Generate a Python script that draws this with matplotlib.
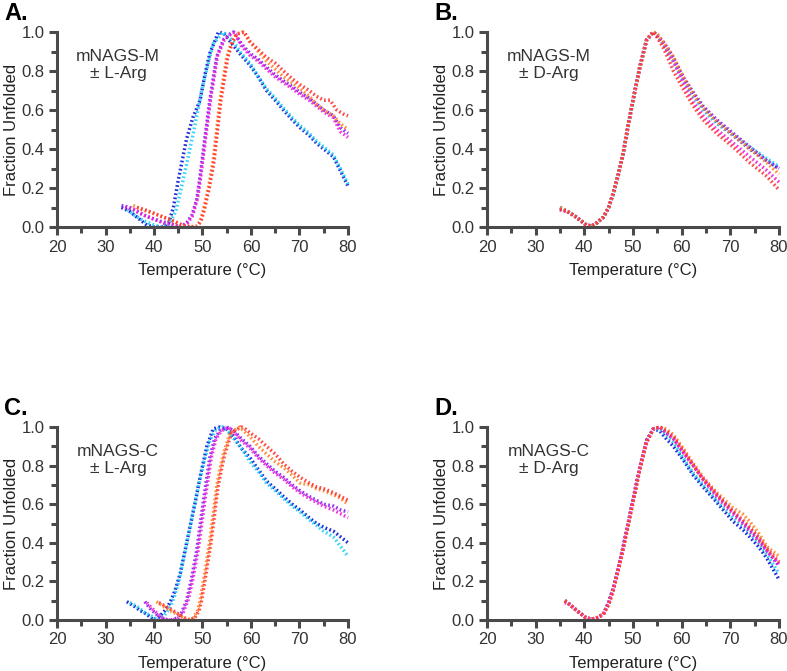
import matplotlib
matplotlib.use('Agg')
import matplotlib.pyplot as plt
from matplotlib.ticker import MultipleLocator

plt.rcParams['font.family'] = ['Liberation Sans', 'DejaVu Sans']

# colours for the six traces in each panel
colors = {'blue': '#0a16d8', 'cyan': '#22d2f5', 'purple': '#8a1cf0',
          'magenta': '#f020d8', 'orange': '#ff8424', 'red': '#ff3434'}

# ---- panel A : mNAGS-M +/- L-Arg ----
a_blue_t = [33.3, 35, 37, 38.5, 40, 42, 43, 44, 45, 46.7, 48, 49.5, 50.5, 51.5, 53.3, 54.5, 56.4, 58, 59.8, 61.5, 63.2, 65, 66.7, 68.5, 70.1, 72, 73.5, 75, 77, 78.4, 80]
a_blue_y = [0.10, 0.08, 0.04, 0.01, 0.0, 0.0, 0.02, 0.10, 0.24, 0.45, 0.56, 0.65, 0.78, 0.89, 1.0, 0.99, 0.93, 0.88, 0.83, 0.77, 0.70, 0.65, 0.60, 0.55, 0.51, 0.47, 0.43, 0.40, 0.36, 0.29, 0.21]
a_cyan_t = [34.5, 36, 38, 40, 41.5, 43, 44.5, 46, 48.1, 50, 52.2, 54.3, 56.4, 58, 59.8, 61.5, 63.2, 65, 66.7, 68.5, 70.1, 72, 73.5, 75, 77, 78.4, 80]
a_cyan_y = [0.09, 0.06, 0.03, 0.01, 0.0, 0.01, 0.08, 0.24, 0.48, 0.72, 0.94, 1.0, 0.95, 0.89, 0.84, 0.77, 0.71, 0.66, 0.61, 0.56, 0.52, 0.48, 0.44, 0.41, 0.37, 0.30, 0.22]
a_purple_t = [33.3, 35, 37.1, 39, 41.2, 43, 45.4, 46.7, 47.8, 48.8, 49.5, 50.2, 51.5, 52.9, 54.3, 55.7, 56.4, 58, 59.8, 61.5, 63.2, 65, 66.7, 68.5, 70.1, 72, 73.5, 75, 77, 78.4, 80]
a_purple_y = [0.11, 0.10, 0.07, 0.05, 0.03, 0.02, 0.0, 0.02, 0.06, 0.14, 0.26, 0.40, 0.65, 0.87, 0.96, 0.99, 1.0, 0.94, 0.89, 0.86, 0.82, 0.78, 0.75, 0.72, 0.69, 0.66, 0.63, 0.60, 0.57, 0.51, 0.48]
a_magenta_t = [34, 36, 38, 40, 42, 44, 45.6, 46.9, 48, 49, 49.7, 50.4, 51.7, 53.1, 54.5, 55.9, 56.6, 58, 59.8, 61.5, 63.2, 65, 66.7, 68.5, 70.1, 72, 73.5, 75, 77, 78.4, 80]
a_magenta_y = [0.10, 0.09, 0.06, 0.04, 0.02, 0.01, 0.0, 0.02, 0.06, 0.15, 0.27, 0.41, 0.66, 0.88, 0.96, 0.99, 1.0, 0.93, 0.88, 0.85, 0.81, 0.77, 0.74, 0.71, 0.68, 0.65, 0.62, 0.59, 0.56, 0.49, 0.46]
a_orange_t = [35.7, 37.5, 39.9, 42, 44, 45.5, 47.4, 48.8, 49.5, 50.2, 51.2, 52.2, 53.6, 55, 56, 57, 58.4, 59.8, 61.5, 63.2, 65, 66.7, 68.5, 70.1, 72, 73.5, 75, 77, 78.4, 80]
a_orange_y = [0.11, 0.09, 0.07, 0.05, 0.03, 0.01, 0.0, 0.005, 0.03, 0.09, 0.20, 0.34, 0.65, 0.87, 0.95, 0.99, 1.0, 0.95, 0.90, 0.85, 0.81, 0.77, 0.74, 0.71, 0.67, 0.63, 0.60, 0.57, 0.53, 0.50]
a_red_t = [36.5, 38, 40, 42, 44, 46, 47.6, 49, 49.7, 50.4, 51.4, 52.4, 53.8, 55.2, 56.2, 57.2, 58.6, 59.8, 61.5, 63.2, 65, 66.7, 68.5, 70.1, 72, 73.5, 75, 76.3, 77.7, 79, 80]
a_red_y = [0.10, 0.09, 0.07, 0.05, 0.03, 0.01, 0.0, 0.005, 0.03, 0.09, 0.20, 0.34, 0.65, 0.87, 0.95, 0.99, 1.0, 0.95, 0.91, 0.87, 0.84, 0.80, 0.76, 0.73, 0.70, 0.67, 0.65, 0.65, 0.60, 0.58, 0.57]

# ---- panel B : mNAGS-M +/- D-Arg ----
b_t = [35, 36.5, 38.4, 40.4, 41.5, 42.5, 43.9, 45, 45.9, 47, 48, 49, 50, 51.4, 52.8, 54.2, 55, 56.2, 57.3, 58.3, 60.3, 62.4, 64.4, 67.2, 70.6, 74, 77.5, 80]
b_blue_y = [0.10, 0.08, 0.05, 0.01, 0.005, 0.02, 0.05, 0.10, 0.17, 0.27, 0.38, 0.52, 0.65, 0.82, 0.96, 1.0, 0.98, 0.94, 0.90, 0.86, 0.76, 0.68, 0.61, 0.54, 0.47, 0.40, 0.34, 0.30]
b_cyan_y = [0.10, 0.08, 0.05, 0.01, 0.005, 0.02, 0.05, 0.10, 0.17, 0.27, 0.38, 0.52, 0.65, 0.82, 0.96, 1.0, 0.98, 0.94, 0.89, 0.85, 0.75, 0.67, 0.60, 0.53, 0.47, 0.41, 0.35, 0.31]
b_purple_y = [0.09, 0.08, 0.05, 0.01, 0.005, 0.02, 0.05, 0.10, 0.17, 0.27, 0.38, 0.52, 0.65, 0.82, 0.96, 1.0, 0.98, 0.95, 0.91, 0.87, 0.77, 0.69, 0.62, 0.55, 0.48, 0.41, 0.34, 0.30]
b_magenta_y = [0.09, 0.08, 0.05, 0.01, 0.005, 0.02, 0.05, 0.10, 0.17, 0.27, 0.38, 0.52, 0.65, 0.82, 0.96, 1.0, 0.98, 0.94, 0.89, 0.85, 0.74, 0.64, 0.57, 0.50, 0.43, 0.36, 0.29, 0.23]
b_orange_y = [0.10, 0.08, 0.05, 0.01, 0.005, 0.02, 0.05, 0.10, 0.17, 0.27, 0.38, 0.52, 0.65, 0.82, 0.96, 1.0, 0.99, 0.95, 0.91, 0.87, 0.77, 0.68, 0.61, 0.54, 0.47, 0.40, 0.33, 0.27]
b_red_y = [0.09, 0.08, 0.05, 0.01, 0.005, 0.02, 0.05, 0.10, 0.17, 0.27, 0.38, 0.52, 0.65, 0.82, 0.96, 1.0, 0.97, 0.92, 0.86, 0.80, 0.71, 0.62, 0.55, 0.48, 0.41, 0.33, 0.26, 0.19]

# ---- panel C : mNAGS-C +/- L-Arg ----
c_blue_t = [34.4, 36, 37.1, 38.5, 39.9, 41.2, 42.3, 43.3, 44.3, 45.4, 46.4, 47.4, 48.5, 49.5, 50.9, 52.2, 53.6, 55, 56.4, 58, 59.8, 61.5, 63.2, 65, 66.7, 68.5, 70.1, 72, 73.5, 75, 77, 78.5, 80]
c_blue_y = [0.095, 0.07, 0.05, 0.03, 0.0, 0.02, 0.05, 0.09, 0.15, 0.24, 0.36, 0.48, 0.61, 0.74, 0.90, 0.99, 1.0, 0.99, 0.95, 0.89, 0.84, 0.78, 0.72, 0.68, 0.64, 0.60, 0.57, 0.53, 0.50, 0.48, 0.46, 0.43, 0.40]
c_cyan_t = [35, 36.5, 38, 39.5, 40.8, 42, 43.2, 44.2, 45.2, 46.2, 47.2, 48.2, 49.3, 50.3, 51.5, 52.8, 54.2, 55.5, 56.8, 58.3, 59.8, 61.5, 63.2, 65, 66.7, 68.5, 70.1, 72, 73.5, 75, 77, 78.5, 80]
c_cyan_y = [0.09, 0.07, 0.04, 0.02, 0.0, 0.02, 0.06, 0.12, 0.21, 0.33, 0.45, 0.58, 0.71, 0.82, 0.93, 0.99, 1.0, 0.97, 0.93, 0.88, 0.82, 0.77, 0.71, 0.67, 0.63, 0.59, 0.56, 0.52, 0.49, 0.46, 0.43, 0.38, 0.33]
c_purple_t = [38.1, 39.2, 40.5, 41.5, 42.6, 43.6, 44.7, 45.7, 46.7, 47.7, 48.8, 49.5, 50.2, 51.5, 52.5, 53.6, 55, 56.4, 58, 59.8, 61.5, 63.2, 65, 66.7, 68.5, 70.1, 72, 73.5, 75, 77, 78.5, 80]
c_purple_y = [0.095, 0.06, 0.03, 0.01, 0.0, 0.0, 0.01, 0.04, 0.10, 0.21, 0.36, 0.49, 0.62, 0.84, 0.94, 0.98, 1.0, 0.98, 0.94, 0.90, 0.85, 0.81, 0.77, 0.74, 0.70, 0.67, 0.64, 0.62, 0.60, 0.59, 0.57, 0.56]
c_magenta_t = [38.5, 39.6, 40.8, 41.8, 42.9, 43.9, 45, 46, 47, 48, 49.1, 49.8, 50.5, 51.8, 52.8, 53.9, 55.3, 56.6, 58, 59.8, 61.5, 63.2, 65, 66.7, 68.5, 70.1, 72, 73.5, 75, 77, 78.5, 80]
c_magenta_y = [0.09, 0.06, 0.03, 0.01, 0.0, 0.0, 0.01, 0.04, 0.10, 0.21, 0.36, 0.49, 0.62, 0.84, 0.94, 0.98, 1.0, 0.97, 0.93, 0.89, 0.84, 0.80, 0.76, 0.73, 0.69, 0.66, 0.63, 0.61, 0.59, 0.57, 0.55, 0.53]
c_orange_t = [40.5, 42, 43.3, 44.4, 45.4, 46.7, 48.1, 49, 49.5, 50.5, 51.5, 52.2, 52.9, 53.6, 54.3, 55.7, 57, 57.7, 58.5, 59.8, 61.5, 63.2, 65, 66.7, 68.5, 70.1, 72, 73.5, 75, 77, 78.5, 80]
c_orange_y = [0.095, 0.07, 0.05, 0.035, 0.02, 0.0, 0.01, 0.05, 0.10, 0.25, 0.41, 0.55, 0.69, 0.78, 0.86, 0.97, 0.99, 1.0, 0.98, 0.95, 0.90, 0.86, 0.82, 0.79, 0.75, 0.71, 0.70, 0.68, 0.67, 0.65, 0.63, 0.60]
c_red_t = [41, 42.5, 43.8, 44.8, 45.8, 47, 48.4, 49.3, 49.8, 50.8, 51.8, 52.5, 53.2, 53.9, 54.6, 56, 57.3, 58, 58.8, 59.8, 61.5, 63.2, 65, 66.7, 68.5, 70.1, 72, 73.5, 75, 77, 78.5, 80]
c_red_y = [0.09, 0.07, 0.05, 0.035, 0.02, 0.0, 0.01, 0.05, 0.10, 0.25, 0.41, 0.55, 0.69, 0.78, 0.86, 0.97, 0.99, 1.0, 0.99, 0.97, 0.94, 0.90, 0.86, 0.81, 0.77, 0.74, 0.71, 0.69, 0.68, 0.66, 0.64, 0.62]

# ---- panel D : mNAGS-C +/- D-Arg ----
d_t = [36, 37, 38.4, 40.4, 41.5, 42.5, 43.9, 45, 45.9, 47, 48, 49, 50, 51.4, 52.8, 54.2, 55.5, 56.8, 58.3, 60.3, 62.4, 64.4, 67.2, 70.6, 72.5, 74, 75.8, 77.5, 80]
d_blue_y = [0.10, 0.08, 0.05, 0.01, 0.005, 0.01, 0.03, 0.09, 0.16, 0.27, 0.38, 0.50, 0.62, 0.79, 0.93, 0.99, 0.98, 0.94, 0.90, 0.83, 0.75, 0.69, 0.61, 0.51, 0.47, 0.43, 0.38, 0.32, 0.21]
d_cyan_y = [0.10, 0.08, 0.05, 0.01, 0.005, 0.01, 0.03, 0.09, 0.16, 0.27, 0.38, 0.50, 0.62, 0.79, 0.93, 0.99, 0.99, 0.96, 0.92, 0.84, 0.76, 0.70, 0.62, 0.53, 0.49, 0.45, 0.40, 0.34, 0.24]
d_purple_y = [0.10, 0.08, 0.05, 0.01, 0.005, 0.01, 0.03, 0.09, 0.16, 0.27, 0.38, 0.50, 0.62, 0.79, 0.93, 0.99, 1.0, 0.97, 0.94, 0.87, 0.80, 0.73, 0.65, 0.56, 0.51, 0.47, 0.42, 0.36, 0.28]
d_magenta_y = [0.09, 0.08, 0.05, 0.01, 0.005, 0.01, 0.03, 0.09, 0.16, 0.27, 0.38, 0.50, 0.62, 0.79, 0.93, 0.99, 1.0, 0.97, 0.94, 0.87, 0.80, 0.73, 0.64, 0.55, 0.50, 0.46, 0.41, 0.36, 0.29]
d_orange_y = [0.10, 0.08, 0.05, 0.01, 0.005, 0.01, 0.03, 0.08, 0.15, 0.26, 0.37, 0.49, 0.61, 0.78, 0.92, 0.99, 1.0, 0.99, 0.96, 0.89, 0.81, 0.74, 0.66, 0.58, 0.55, 0.51, 0.45, 0.38, 0.33]
d_red_y = [0.10, 0.08, 0.05, 0.01, 0.005, 0.01, 0.03, 0.08, 0.15, 0.26, 0.37, 0.49, 0.61, 0.78, 0.92, 0.99, 1.0, 0.98, 0.95, 0.88, 0.80, 0.73, 0.65, 0.56, 0.52, 0.48, 0.43, 0.37, 0.30]

panels = [
    ('A.', 'mNAGS-M\n± L-Arg', [
        (a_blue_t, a_blue_y, 'blue'), (a_cyan_t, a_cyan_y, 'cyan'),
        (a_purple_t, a_purple_y, 'purple'), (a_magenta_t, a_magenta_y, 'magenta'),
        (a_orange_t, a_orange_y, 'orange'), (a_red_t, a_red_y, 'red')]),
    ('B.', 'mNAGS-M\n± D-Arg', [
        (b_t, b_blue_y, 'blue'), (b_t, b_cyan_y, 'cyan'),
        (b_t, b_purple_y, 'purple'), (b_t, b_magenta_y, 'magenta'),
        (b_t, b_orange_y, 'orange'), (b_t, b_red_y, 'red')]),
    ('C.', 'mNAGS-C\n± L-Arg', [
        (c_blue_t, c_blue_y, 'blue'), (c_cyan_t, c_cyan_y, 'cyan'),
        (c_purple_t, c_purple_y, 'purple'), (c_magenta_t, c_magenta_y, 'magenta'),
        (c_orange_t, c_orange_y, 'orange'), (c_red_t, c_red_y, 'red')]),
    ('D.', 'mNAGS-C\n± D-Arg', [
        (d_t, d_blue_y, 'blue'), (d_t, d_cyan_y, 'cyan'),
        (d_t, d_purple_y, 'purple'), (d_t, d_magenta_y, 'magenta'),
        (d_t, d_orange_y, 'orange'), (d_t, d_red_y, 'red')]),
]

W, H = 787, 671
fig = plt.figure(figsize=(W / 100, H / 100), dpi=100)

# axes boxes in pixels: left, right, top, bottom
boxes = [(57, 348, 32, 227), (487, 779, 32, 227),
         (57, 348, 427, 620), (487, 779, 427, 620)]
gray = '#4a4a4a'
txt = '#333333'

for (lab, note, series), (l, r, t, b) in zip(panels, boxes):
    ax = fig.add_axes([l / W, 1 - b / H, (r - l) / W, (b - t) / H])
    for x, y, c in series:
        ax.plot(x, y, color=colors[c], lw=2.5, ls=(0, (0.5, 0.7)),
                dash_capstyle='butt', clip_on=False, alpha=0.9)
    ax.set_xlim(20, 80)
    ax.set_ylim(0, 1.0)
    ax.xaxis.set_major_locator(MultipleLocator(10))
    ax.xaxis.set_minor_locator(MultipleLocator(5))
    ax.yaxis.set_major_locator(MultipleLocator(0.2))
    ax.yaxis.set_minor_locator(MultipleLocator(0.1))
    ax.yaxis.set_major_formatter(plt.FuncFormatter(lambda v, p: '%.1f' % v))
    for s in ['top', 'right']:
        ax.spines[s].set_visible(False)
    for s in ['left', 'bottom']:
        ax.spines[s].set_color(gray)
        ax.spines[s].set_linewidth(2.2)
    ax.tick_params(which='major', direction='out', length=6, width=2.2,
                   color=gray, labelsize=12, labelcolor=txt, pad=3)
    ax.tick_params(which='minor', direction='out', length=4, width=2.2, color=gray)
    ax.set_xlabel('Temperature (°C)', fontsize=12, color='#222222', labelpad=6)
    ax.set_ylabel('Fraction Unfolded', fontsize=12, color='#222222', labelpad=2)
    ax.text(0.21, 0.83, note, transform=ax.transAxes, ha='center', va='center',
            fontsize=12.5, color=txt, linespacing=1.15)
    # bold panel letter above the top-left corner
    ax.text(-53 / (r - l), 1 + 30 / (b - t), lab, transform=ax.transAxes,
            ha='left', va='top', fontsize=17, fontweight='bold', color='black')

fig.savefig('out.png', dpi=100)
